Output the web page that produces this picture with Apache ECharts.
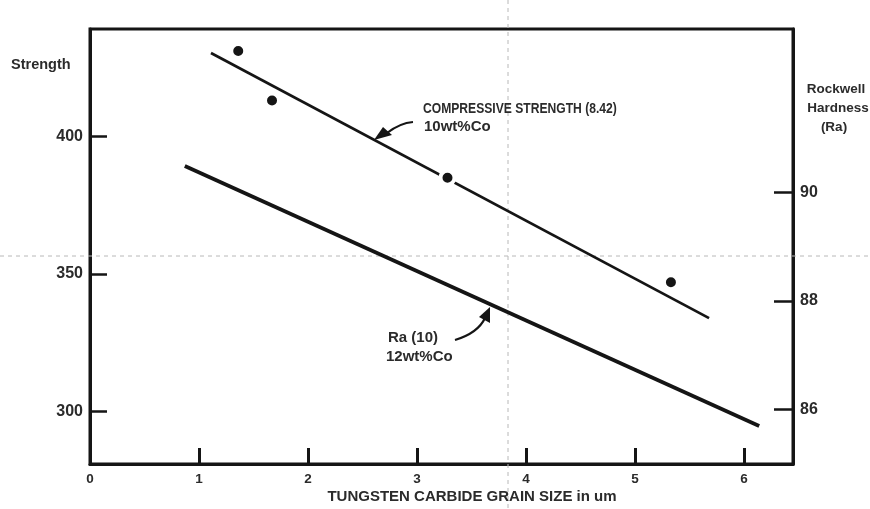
<!DOCTYPE html>
<html>
<head>
<meta charset="utf-8">
<script src="https://cdn.jsdelivr.net/npm/echarts@6/dist/echarts.min.js"></script>
<style>
  html, body { margin: 0; padding: 0; background: #fff; }
  #chart { width: 870px; height: 509px; }
</style>
</head>
<body>
<div id="chart"></div>
<script>
// Grain size (um) of the measured compressive-strength samples, 10 wt% Co
const grainSize = [1.36, 1.67, 3.28, 5.33];
const strengthPts = [431, 413, 385, 347];

// Fitted trend: compressive strength vs grain size (10 wt% Co)
const strengthFitX = [1.11, 5.68];
const strengthFitY = [430.3, 334.0];

// Fitted trend: Rockwell hardness Ra vs grain size (12 wt% Co)
const raFitX = [0.87, 6.14];
const raFitY = [90.48, 85.70];

// Axis tick labels
const xTicks = [0, 1, 2, 3, 4, 5, 6];
const strengthTicks = [300, 350, 400];
const hardnessTicks = [86, 88, 90];

const INK = '#151515';
const TEXT = '#2b2b2b';
const FONT = '"Liberation Sans", Arial, sans-serif';

const chart = echarts.init(document.getElementById('chart'), null, { renderer: 'canvas' });

const pairs = (xs, ys) => xs.map((x, i) => [x, ys[i]]);

const labelStyle = (size) => ({ color: TEXT, fontFamily: FONT, fontWeight: 'bold', fontSize: size });

chart.setOption({
  animation: false,
  backgroundColor: '#fff',
  grid: {
    left: 90, right: 77, top: 29, bottom: 45,
    show: true, borderColor: INK, borderWidth: 3, backgroundColor: 'transparent'
  },
  xAxis: {
    type: 'value', min: 0, max: 6.45, interval: 1,
    axisLine: { show: true, lineStyle: { color: INK, width: 3 } },
    axisTick: { show: true, inside: true, length: 16, lineStyle: { color: INK, width: 3 },
                customValues: xTicks },
    axisLabel: Object.assign({ margin: 8, customValues: xTicks }, labelStyle(13.5)),
    splitLine: { show: false }
  },
  yAxis: [
    {
      type: 'value', position: 'left', min: 281, max: 439,
      axisLine: { show: true, lineStyle: { color: INK, width: 3 } },
      axisTick: { show: true, inside: true, length: 17, lineStyle: { color: INK, width: 2.5 },
                  customValues: strengthTicks },
      axisLabel: Object.assign({ margin: 7, customValues: strengthTicks }, labelStyle(16)),
      splitLine: { show: false }
    },
    {
      type: 'value', position: 'right', min: 85, max: 93,
      axisLine: { show: true, lineStyle: { color: INK, width: 3 } },
      axisTick: { show: true, inside: true, length: 19, lineStyle: { color: INK, width: 2.5 },
                  customValues: hardnessTicks },
      axisLabel: Object.assign({ margin: 7, customValues: hardnessTicks }, labelStyle(16)),
      splitLine: { show: false }
    }
  ],
  series: [
    {
      name: 'Compressive strength fit',
      type: 'line', yAxisIndex: 0, data: pairs(strengthFitX, strengthFitY),
      symbol: 'none', lineStyle: { color: INK, width: 2.7 }, z: 3
    },
    {
      name: 'Ra fit',
      type: 'line', yAxisIndex: 1, data: pairs(raFitX, raFitY),
      symbol: 'none', lineStyle: { color: INK, width: 3.8 }, z: 3
    },
    {
      name: 'Compressive strength',
      type: 'scatter', yAxisIndex: 0, data: pairs(grainSize, strengthPts),
      symbol: 'circle', symbolSize: 14,
      itemStyle: { color: INK, opacity: 1, borderColor: '#fff', borderWidth: 4 },
      emphasis: { disabled: true }, z: 5
    }
  ]
});

// Annotations, axis titles and the faint guide lines across the sheet
const txt = (x, y, s, size, extra) => Object.assign({
  type: 'text', x: x, y: y, silent: true, z: 20,
  style: { text: s, fill: TEXT, font: 'bold ' + size + 'px ' + FONT,
           textVerticalAlign: 'middle', textAlign: 'left' }
}, extra || {});

chart.setOption({
  graphic: [
    // guide lines
    { type: 'line', z: 1, silent: true,
      shape: { x1: 508, y1: 0, x2: 508, y2: 509 },
      style: { stroke: '#b8b8b8', lineWidth: 1, lineDash: [4, 4] } },
    { type: 'line', z: 1, silent: true,
      shape: { x1: 0, y1: 256, x2: 870, y2: 256 },
      style: { stroke: '#b8b8b8', lineWidth: 1, lineDash: [4, 4] } },

    // axis titles
    txt(11, 65, 'Strength', 14.5),
    { type: 'text', x: 836, y: 89, silent: true, z: 20,
      style: { text: 'Rockwell', fill: TEXT, font: 'bold 13.5px ' + FONT, textAlign: 'center', textVerticalAlign: 'middle' } },
    { type: 'text', x: 838, y: 108, silent: true, z: 20,
      style: { text: 'Hardness', fill: TEXT, font: 'bold 13.5px ' + FONT, textAlign: 'center', textVerticalAlign: 'middle' } },
    { type: 'text', x: 834, y: 127, silent: true, z: 20,
      style: { text: '(Ra)', fill: TEXT, font: 'bold 13.5px ' + FONT, textAlign: 'center', textVerticalAlign: 'middle' } },
    { type: 'text', x: 472, y: 497, silent: true, z: 20,
      style: { text: 'TUNGSTEN CARBIDE GRAIN SIZE in um', fill: TEXT, font: 'bold 15px ' + FONT,
               textAlign: 'center', textVerticalAlign: 'middle' } },

    // compressive strength callout
    txt(423, 109, 'COMPRESSIVE STRENGTH (8.42)', 14, { scaleX: 0.865 }),
    txt(424, 127, '10wt%Co', 15),
    { type: 'bezierCurve', z: 15, silent: true,
      shape: { x1: 413, y1: 122, x2: 387, y2: 133, cpx1: 400, cpy1: 123 },
      style: { stroke: INK, lineWidth: 2.2, fill: null } },
    { type: 'polygon', z: 15, silent: true,
      shape: { points: [[374, 140], [383, 127], [392, 135]] },
      style: { fill: INK } },

    // Ra callout
    txt(388, 338, 'Ra (10)', 15),
    txt(386, 357, '12wt%Co', 15),
    { type: 'bezierCurve', z: 15, silent: true,
      shape: { x1: 455, y1: 340, x2: 485, y2: 318, cpx1: 478, cpy1: 333 },
      style: { stroke: INK, lineWidth: 2.2, fill: null } },
    { type: 'polygon', z: 15, silent: true,
      shape: { points: [[490, 307], [479, 317], [490, 323]] },
      style: { fill: INK } }
  ]
});
</script>
</body>
</html>
